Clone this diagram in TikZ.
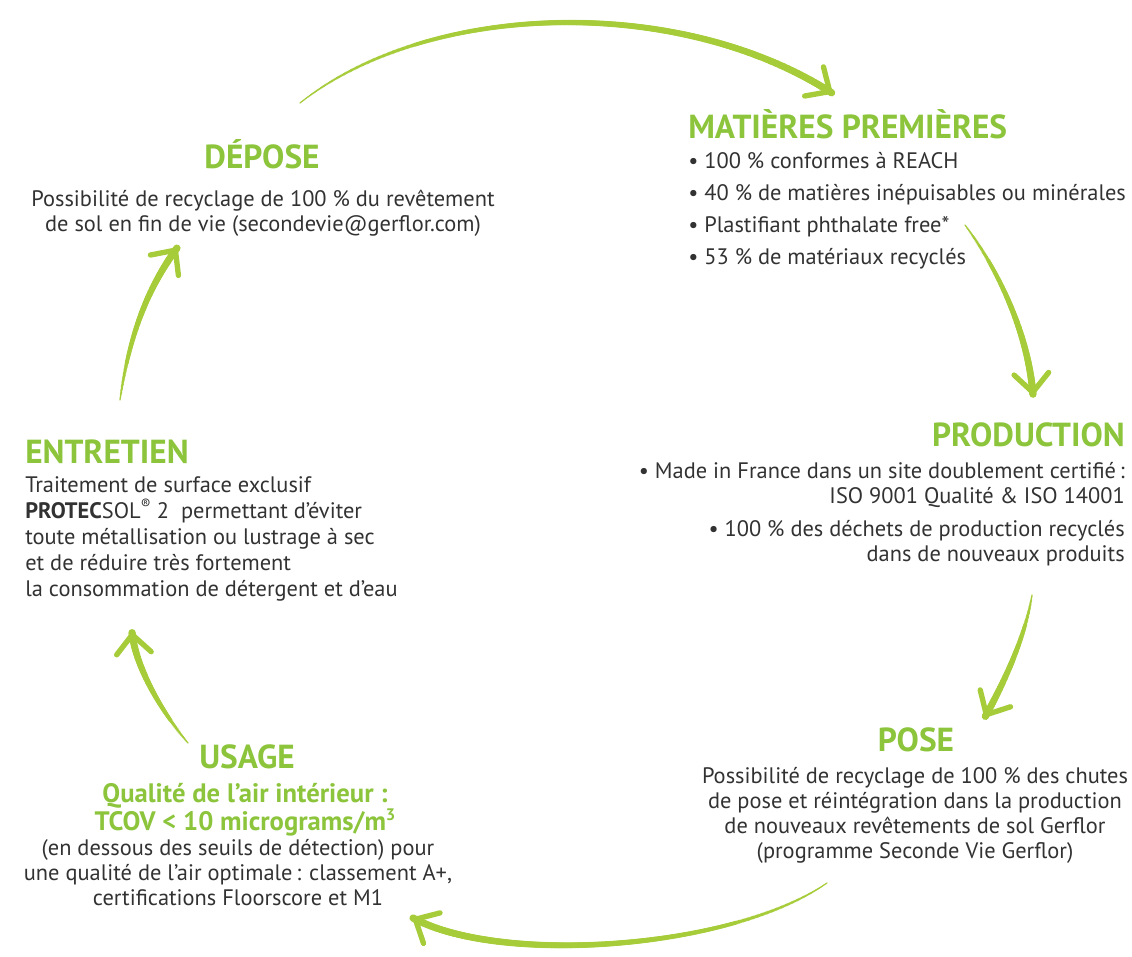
\documentclass[tikz,border=0pt]{standalone}
\usepackage{fontspec}
\setmainfont{PT Sans}
\usetikzlibrary{arrows.meta,decorations.markings}

\definecolor{headgreen}{RGB}{140,196,60}
\definecolor{brushgreen}{RGB}{166,204,58}
\definecolor{bodygray}{RGB}{50,50,50}

\newcommand{\smallsup}[2][10]{\raisebox{0.75ex}{\fontsize{#1}{#1}\selectfont #2}}

\tikzset{
  phasetitle/.style={text=headgreen, font=\fontsize{25}{28}\selectfont\bfseries, inner sep=0pt},
  phasetext/.style={text=bodygray, font=\fontsize{16.8}{18.75}\selectfont, inner sep=0pt},
  brush/.style={draw=brushgreen, line width=0.8pt, line cap=round,
    -{Straight Barb[length=14pt,width=26pt,round,line width=4pt]},
    postaction={decorate},
    decoration={markings, mark=between positions 0 and 1 step 1pt with {
      \pgfmathsetmacro{\brushr}{0.3+2.5*sqrt(\pgfkeysvalueof{/pgf/decoration/mark info/distance from start}/\pgfdecoratedpathlength)}
      \fill[brushgreen] (0,0) circle (\brushr pt);}}}
}

\begin{document}
\begin{tikzpicture}[x=0.75pt,y=-0.75pt]

\useasboundingbox (0,0) rectangle (1132,957);

% DEPOSE
\node[phasetitle, anchor=base] (depose) at (262,168) {DÉPOSE};
\node[phasetext, anchor=base, align=center] (deposetext) at (263,231)
  {Possibilité de recyclage de 100 \% du revêtement\\de sol en fin de vie (secondevie@gerflor.com)};

% MATIERES PREMIERES
\node[phasetitle, anchor=base west] (matieres) at (688,138) {MATIÈRES PREMIÈRES};
\node[phasetext, anchor=base west, align=left, font=\fontsize{16.8}{24}\selectfont] (matierestext) at (688,264)
  {• 100 \% conformes à REACH\\• 40 \% de matières inépuisables ou minérales\\• Plastifiant phthalate free*\\• 53 \% de matériaux recyclés};

% PRODUCTION
\node[phasetitle, anchor=base east] (production) at (1125,446) {PRODUCTION};
\node[phasetext, anchor=base east, align=right] (productiontext) at (1125,561)
  {• Made in France dans un site doublement certifié\,:\\ISO 9001 Qualité \& ISO 14001\\[6pt]• 100 \% des déchets de production recyclés\\dans de nouveaux produits};

% POSE
\node[phasetitle, anchor=base] (pose) at (916,751) {POSE};
\node[phasetext, anchor=base, align=center] (posetext) at (915,858)
  {Possibilité de recyclage de 100 \% des chutes\\de pose et réintégration dans la production\\de nouveaux revêtements de sol Gerflor\\(programme Seconde Vie Gerflor)};

% USAGE
\node[phasetitle, anchor=base] (usage) at (247,768) {USAGE};
\node[phasetitle, anchor=base, align=center, font=\fontsize{20}{21}\selectfont\bfseries] (usagesub) at (245,830)
  {Qualité de l’air intérieur :\\TCOV < 10 micrograms/m\smallsup[12.5]{\bfseries 3}};
\node[phasetext, anchor=base, align=center] (usagetext) at (238,905)
  {(en dessous des seuils de détection) pour\\une qualité de l’air optimale\,: classement A+,\\certifications Floorscore et M1};

% ENTRETIEN
\node[phasetitle, anchor=base west] (entretien) at (25,463) {ENTRETIEN};
\node[phasetext, anchor=base west, align=left, font=\fontsize{16.8}{19.5}\selectfont] (entretientext) at (25,596)
  {Traitement de surface exclusif\\\textbf{PROTEC}SOL\smallsup[11]{®} 2\ \ permettant d’éviter\\toute métallisation ou lustrage à sec\\et de réduire très fortement\\la consommation de détergent et d’eau};

% brush arrows
\coordinate (a1s) at (300,103);
\coordinate (a1e) at (832,93);
\coordinate (a2s) at (965,225);
\coordinate (a2e) at (1033,395);
\coordinate (a3s) at (1032,595);
\coordinate (a3e) at (985,717);
\coordinate (a4s) at (827,883);
\coordinate (a4e) at (413,918);
\coordinate (a5s) at (188,743);
\coordinate (a5e) at (132,632);
\coordinate (a6s) at (120,400);
\coordinate (a6e) at (177,248);

\draw[brush] (a1s) .. controls (430,0) and (680,-5) .. (a1e);
\draw[brush] (a2s) .. controls (995,265) and (1028,330) .. (a2e);
\draw[brush] (a3s) .. controls (1025,640) and (1000,690) .. (a3e);
\draw[brush] (a4s) .. controls (730,950) and (500,965) .. (a4e);
\draw[brush] (a5s) .. controls (160,710) and (135,665) .. (a5e);
\draw[brush] (a6s) .. controls (130,330) and (150,285) .. (a6e);

\end{tikzpicture}
\end{document}
